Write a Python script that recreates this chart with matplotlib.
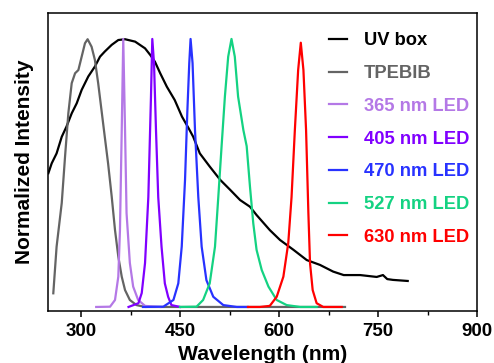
import numpy as np
import matplotlib
matplotlib.use('Agg')
import matplotlib.pyplot as plt
from matplotlib.ticker import MultipleLocator

plt.rcParams['font.family'] = ['Liberation Sans', 'DejaVu Sans']

# UV box lamp spectrum
uv_wl = [250.5, 255.6, 263, 270.8, 278, 286, 293.5, 301, 311, 321, 328.8, 336, 346.5,
         356.5, 366.7, 382, 397, 405, 412, 420, 430, 442, 453, 463, 470, 480, 495, 511,
         526, 541, 556, 566, 576, 586, 601.5, 622, 642, 662, 682, 698, 723, 748, 757.5,
         764, 772.6, 795]
uv_int = [0.499, 0.536, 0.573, 0.635, 0.673, 0.723, 0.76, 0.81, 0.86, 0.897, 0.934, 0.953,
          0.978, 0.996, 0.999, 0.99, 0.965, 0.94, 0.915, 0.872, 0.822, 0.772, 0.71, 0.667,
          0.635, 0.573, 0.524, 0.474, 0.437, 0.399, 0.374, 0.343, 0.315, 0.287, 0.25,
          0.213, 0.175, 0.157, 0.132, 0.119, 0.119, 0.112, 0.119, 0.104, 0.101, 0.097]

# TPEBIB absorption
tp_wl = [258, 263, 270.8, 275.8, 280.8, 285.9, 291, 296, 301, 306, 310, 316, 321, 326,
         331, 336, 341, 346.5, 351.5, 356.5, 361.7, 366.7, 374, 384, 397, 450, 550, 700]
tp_int = [0.051, 0.225, 0.388, 0.561, 0.723, 0.835, 0.872, 0.884, 0.934, 0.984, 0.999,
          0.971, 0.922, 0.835, 0.735, 0.635, 0.536, 0.412, 0.287, 0.188, 0.113, 0.063,
          0.026, 0.007, 0.0, 0.0, 0.0, 0.0]

led365_wl = [323, 344, 351.5, 356.5, 359, 361.7, 364, 366.7, 369, 374, 379, 386.6, 397, 420]
led365_int = [0.0, 0.001, 0.026, 0.113, 0.287, 0.66, 1.0, 0.66, 0.35, 0.164, 0.076,
              0.026, 0.004, 0.0]

led405_wl = [372, 387, 392, 397, 402, 406, 408, 410.6, 413.6, 417, 422, 427, 432, 437, 450]
led405_int = [0.0, 0.014, 0.052, 0.164, 0.41, 0.785, 1.0, 0.91, 0.66, 0.41, 0.225, 0.088,
              0.038, 0.007, 0.0]

led470_wl = [394, 424.7, 440, 447.4, 452.6, 457.6, 461, 464, 466, 469, 472.7, 477.7, 482.8,
             490, 500.4, 515.6, 536, 553]
led470_int = [0.0, 0.001, 0.026, 0.088, 0.225, 0.474, 0.723, 0.909, 1.0, 0.91, 0.66, 0.41,
              0.225, 0.1, 0.038, 0.007, 0.0, 0.0]

led527_wl = [450, 475, 485, 495, 503, 508, 513, 518, 523, 528, 533, 538, 546, 551, 556,
             561, 566, 573.8, 584, 596.5, 611.6, 632, 657]
led527_int = [0.0, 0.001, 0.026, 0.088, 0.225, 0.41, 0.6, 0.785, 0.934, 1.0, 0.934, 0.785,
              0.66, 0.6, 0.449, 0.312, 0.213, 0.138, 0.076, 0.026, 0.007, 0.0, 0.0]

led630_wl = [553, 571, 586, 596.5, 606.6, 614, 619, 624, 629, 633, 637, 641, 644.5, 647,
             651, 657, 667, 695]
led630_int = [0.0, 0.0, 0.004, 0.038, 0.113, 0.238, 0.41, 0.66, 0.884, 0.986, 0.884, 0.66,
              0.35, 0.163, 0.063, 0.014, 0.0, 0.0]

series = [
    (uv_wl, uv_int, 'UV box', 'black'),
    (tp_wl, tp_int, 'TPEBIB', '#646464'),
    (led365_wl, led365_int, '365 nm LED', '#b478e6'),
    (led405_wl, led405_int, '405 nm LED', '#8000ff'),
    (led470_wl, led470_int, '470 nm LED', '#2832ff'),
    (led527_wl, led527_int, '527 nm LED', '#14d282'),
    (led630_wl, led630_int, '630 nm LED', '#ff0000'),
]

fig = plt.figure(figsize=(4.94, 3.63), dpi=100)
ax = fig.add_axes([0.0972, 0.1433, 0.8684, 0.821])

for wl, inten, lab, col in series:
    ax.plot(wl, inten, color=col, lw=1.6, label=lab)

ax.set_xlim(250, 900)
ax.set_ylim(-0.015, 1.097)
ax.xaxis.set_major_locator(MultipleLocator(150))
ax.xaxis.set_minor_locator(MultipleLocator(75))
ax.set_yticks([])
ax.tick_params(axis='x', which='major', length=4, width=1.1, labelsize=13.5, pad=5)
ax.tick_params(axis='x', which='minor', length=3, width=1.0)
for lbl in ax.get_xticklabels():
    lbl.set_fontweight('bold')
for sp in ax.spines.values():
    sp.set_linewidth(1.1)

ax.set_xlabel('Wavelength (nm)', fontsize=15.2, fontweight='bold', labelpad=3)
ax.set_ylabel('Normalized Intensity', fontsize=15, fontweight='bold', labelpad=10)

leg = ax.legend(loc='upper left', bbox_to_anchor=(0.666, 0.911),
                bbox_transform=fig.transFigure, frameon=False,
                handlelength=1.0, handletextpad=0.9, labelspacing=0.86,
                borderpad=0, borderaxespad=0, labelcolor='linecolor',
                prop={'weight': 'bold', 'size': 13.2})

fig.savefig('out.png', dpi=100)
